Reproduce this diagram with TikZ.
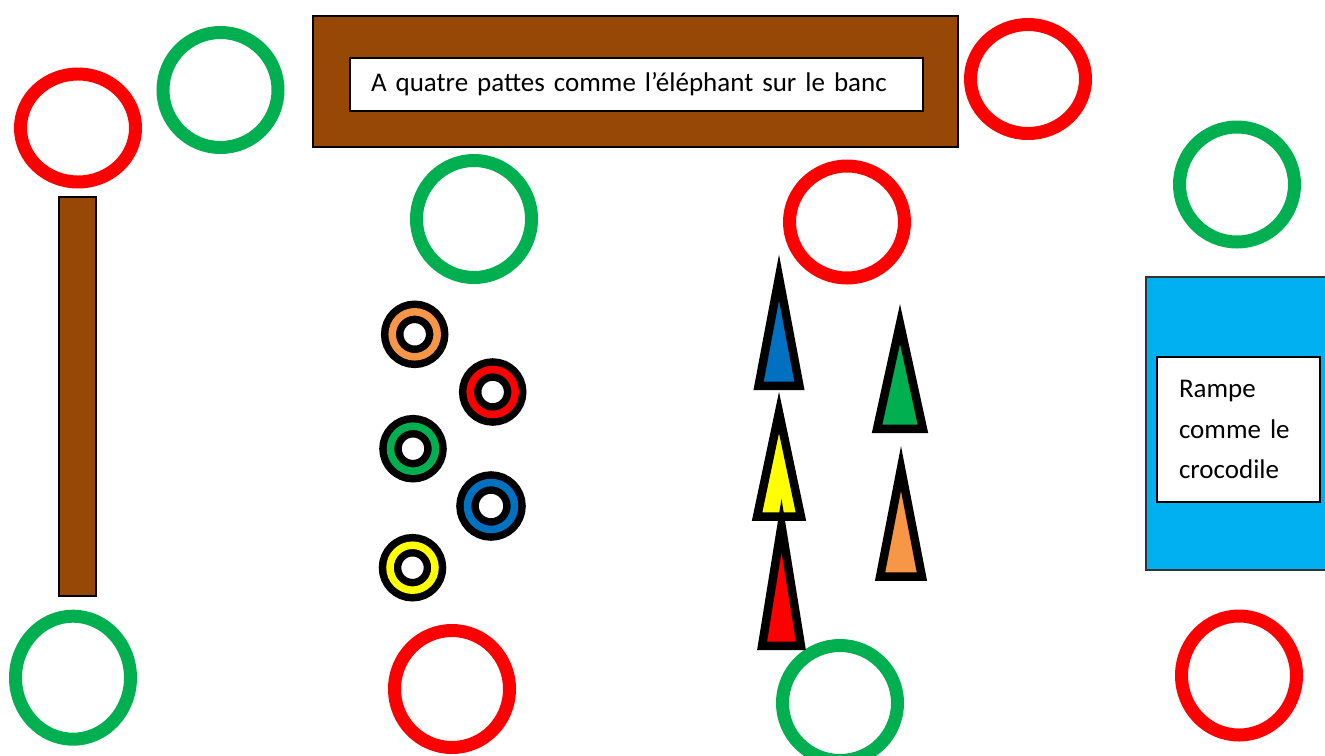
\documentclass[tikz,border=0pt]{standalone}
\usepackage{fontspec}
\setmainfont{Carlito}
\usepackage{tikz}
\usetikzlibrary{shapes.geometric}
\definecolor{hoopRed}{HTML}{FF0000}
\definecolor{hoopGreen}{HTML}{00B050}
\definecolor{benchBrown}{HTML}{974806}
\definecolor{rampBlue}{HTML}{00B0F0}
\definecolor{coneBlue}{HTML}{0070C0}
\definecolor{coneYellow}{HTML}{FFFF00}
\definecolor{coneRed}{HTML}{FF0000}
\definecolor{coneGreen}{HTML}{00B050}
\definecolor{coneOrange}{HTML}{F79646}
\tikzset{
    hoop/.style={ellipse, draw=#1, line width=13pt, inner sep=0pt,
                 minimum width=115pt, minimum height=115pt},
    smallHoop/.style={circle, draw=black, double=#1, double distance=7.5pt,
                      line width=7.5pt, fill=white, inner sep=0pt,
                      minimum size=45pt},
    bench/.style={draw=black, fill=benchBrown, line width=1.5pt, inner sep=0pt},
    ramp/.style={draw=black!80, fill=rampBlue, line width=1.5pt, inner sep=0pt},
    sign/.style={draw=black, fill=white, line width=1.5pt, align=left,
                 inner ysep=0pt, font=\fontsize{27}{40.5}\selectfont},
    cone/.style={draw=black, fill=#1, line width=8.5pt, line join=miter},
}

\begin{document}
\begin{tikzpicture}[x=1pt, y=-1pt]
\useasboundingbox (0,0) rectangle (1325,755);

% =======================  benches and ramp  =======================
\node[bench, minimum width=645pt, minimum height=131pt] (bench) at (635.5,81.5) {};
\node[sign, text width=531pt, inner xsep=21pt, minimum height=53pt]
     (benchSign) at (636.5,84.5)
     {\mbox{A quatre pattes comme l’éléphant sur le banc}};

\node[bench, minimum width=37pt, minimum height=399pt] (beam) at (77.5,396.5) {};

\node[ramp, minimum width=185pt, minimum height=293pt] (ramp) at (1238.5,423.5) {};
\node[sign, text width=119pt, inner xsep=22pt, minimum height=145pt]
     (rampSign) at (1238.5,429.5)
     {\mbox{Rampe}\\\mbox{comme le}\\\mbox{crocodile}};

% =======================  hoops  =======================
\node[hoop=hoopRed, minimum height=108pt] (hoopA) at (78,128) {};
\node[hoop=hoopGreen] (hoopB) at (220.5,90) {};
\node[hoop=hoopRed, minimum height=109pt] (hoopC) at (1028,79) {};
\node[hoop=hoopGreen, minimum height=117pt] (hoopD) at (474,219) {};
\node[hoop=hoopRed, minimum height=112pt] (hoopE) at (847,222) {};
\node[hoop=hoopGreen] (hoopF) at (1237,184.5) {};
\node[hoop=hoopGreen, minimum height=123pt] (hoopG) at (73,677.7) {};
\node[hoop=hoopRed, minimum height=117pt] (hoopH) at (452,689) {};
\node[hoop=hoopGreen] (hoopI) at (840,703) {};
\node[hoop=hoopRed, minimum height=119pt] (hoopJ) at (1239,675.5) {};

% small rings
\node[smallHoop=coneOrange] (ringOrange) at (414.7,334.3) {};
\node[smallHoop=coneRed] (ringRed) at (492.7,392) {};
\node[smallHoop=coneGreen] (ringGreen) at (413,448.7) {};
\node[smallHoop=coneBlue, minimum size=47pt] (ringBlue) at (491,506) {};
\node[smallHoop=coneYellow] (ringYellow) at (412.5,567.7) {};

% =======================  cones  =======================
\draw[cone=coneBlue] (779,277.5) -- (758.6,385.75) -- (799.4,385.75) -- cycle;
\draw[cone=coneYellow] (779,412.5) -- (757.1,516.5) -- (800.9,516.5) -- cycle;
\draw[cone=coneRed] (781.5,525.5) -- (762.1,645.75) -- (800.9,645.75) -- cycle;
\draw[cone=coneGreen] (900,324) -- (877.1,428.75) -- (922.9,428.75) -- cycle;
\draw[cone=coneOrange] (901,468.5) -- (880.1,576.5) -- (921.9,576.5) -- cycle;

\end{tikzpicture}
\end{document}
